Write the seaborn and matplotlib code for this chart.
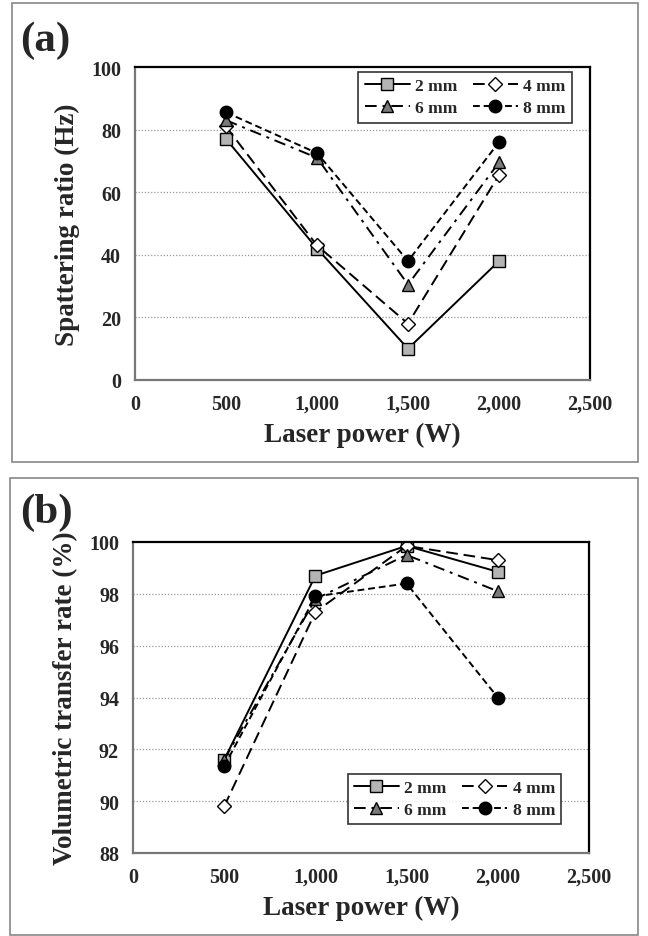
import numpy as np
import pandas as pd
import matplotlib
matplotlib.use("Agg")
import matplotlib.pyplot as plt
from matplotlib.patches import Rectangle
from matplotlib.ticker import FuncFormatter
import seaborn as sns

sns.set_style("white")
plt.rcParams['font.family'] = ['Liberation Serif', 'DejaVu Serif']
plt.rcParams['font.weight'] = 'bold'

power = [500, 1000, 1500, 2000]
series = ['2 mm', '4 mm', '6 mm', '8 mm']

# (a) spattering ratio
spat_2 = [77, 42, 10, 38]
spat_4 = [81, 43, 18, 65.5]
spat_6 = [83, 71, 30.5, 69.5]
spat_8 = [85.5, 72.5, 38, 76]

# (b) volumetric transfer rate
vtr_2 = [91.6, 98.7, 99.85, 98.85]
vtr_4 = [89.8, 97.3, 99.85, 99.3]
vtr_6 = [91.6, 97.8, 99.5, 98.1]
vtr_8 = [91.35, 97.9, 98.4, 94.0]

styles = {
    '2 mm': dict(marker='s', mfc='#b4b4b4', ls='-', ms=9),
    '4 mm': dict(marker='D', mfc='white', ls=(0, (6, 3)), ms=7.5),
    '6 mm': dict(marker='^', mfc='#7a7a7a', ls=(0, (6, 3, 1.5, 3)), ms=9),
    '8 mm': dict(marker='o', mfc='black', ls=(0, (3.5, 2)), ms=9),
}


def make_df(vals):
    rows = []
    for name, v in zip(series, vals):
        for p, y in zip(power, v):
            rows.append({'power': p, 'value': y, 'size': name})
    return pd.DataFrame(rows)


def draw(ax, df, ylim, ystep, ylabel, legend_loc, legend_anchor):
    for name in series:
        st = styles[name]
        sub = df[df['size'] == name]
        sns.lineplot(data=sub, x='power', y='value', ax=ax, color='black',
                     linestyle=st['ls'], marker=st['marker'], markersize=st['ms'],
                     markerfacecolor=st['mfc'], markeredgecolor='black',
                     markeredgewidth=1.0, linewidth=1.4, label=name)
    ax.set_xlim(0, 2500)
    ax.set_ylim(*ylim)
    ax.set_xticks(np.arange(0, 2501, 500))
    ax.set_yticks(np.arange(ylim[0], ylim[1] + 0.1, ystep))
    ax.xaxis.set_major_formatter(FuncFormatter(lambda v, p: f"{int(v):,}"))
    for yv in np.arange(ylim[0] + ystep, ylim[1], ystep):
        ax.axhline(yv, color='#999999', ls=(0, (1, 1.5)), lw=0.9, zorder=0)
    for s in ['top', 'right']:
        ax.spines[s].set_color('black')
        ax.spines[s].set_linewidth(1.6)
    for s in ['left', 'bottom']:
        ax.spines[s].set_color('#777777')
        ax.spines[s].set_linewidth(1.6)
    ax.tick_params(axis='both', direction='out', length=5, width=1.2, color='#777777',
                   labelsize=14.5, pad=5)
    for lab in ax.get_xticklabels() + ax.get_yticklabels():
        lab.set_fontweight('bold')
    ax.set_xlabel('Laser power (W)', fontsize=19.5, fontweight='bold', labelpad=6)
    ax.set_ylabel(ylabel, fontsize=19.5, fontweight='bold', labelpad=8)
    # row-wise legend order: 2 mm, 4 mm / 6 mm, 8 mm
    handles, labels = ax.get_legend_handles_labels()
    order = [0, 2, 1, 3]
    leg = ax.legend([handles[i] for i in order], [labels[i] for i in order],
                    ncol=2, loc=legend_loc, bbox_to_anchor=legend_anchor,
                    fontsize=12.5, frameon=True, fancybox=False,
                    handlelength=2.6, columnspacing=0.9, handletextpad=0.3,
                    borderpad=0.35, labelspacing=0.35, borderaxespad=0)
    leg.get_frame().set_edgecolor('black')
    leg.get_frame().set_linewidth(1.2)
    for t in leg.get_texts():
        t.set_fontweight('bold')


fig = plt.figure(figsize=(6.48, 9.37), dpi=100)
W, H = 648, 937

# outer panel frames
fig.patches.append(Rectangle((12 / W, 1 - 463 / H), 626 / W, 459 / H, transform=fig.transFigure,
                             fill=False, edgecolor='#888888', lw=1.2))
fig.patches.append(Rectangle((10 / W, 1 - 936 / H), 628 / W, 457 / H, transform=fig.transFigure,
                             fill=False, edgecolor='#888888', lw=1.2))

ax1 = fig.add_axes([135 / W, 1 - 381 / H, 455 / W, 313 / H])
ax2 = fig.add_axes([133 / W, 1 - 854 / H, 456 / W, 311 / H])

draw(ax1, make_df([spat_2, spat_4, spat_6, spat_8]), (0, 100), 20,
     'Spattering ratio (Hz)', 'upper right', (0.96, 0.984))
draw(ax2, make_df([vtr_2, vtr_4, vtr_6, vtr_8]), (88, 100), 2,
     'Volumetric transfer rate (%)', 'lower right', (0.939, 0.093))

fig.text(20 / W, 1 - 41 / H, '(a)', fontsize=31, fontweight='bold', va='center')
fig.text(20 / W, 1 - 513 / H, '(b)', fontsize=31, fontweight='bold', va='center')

fig.savefig('out.png', dpi=100)
